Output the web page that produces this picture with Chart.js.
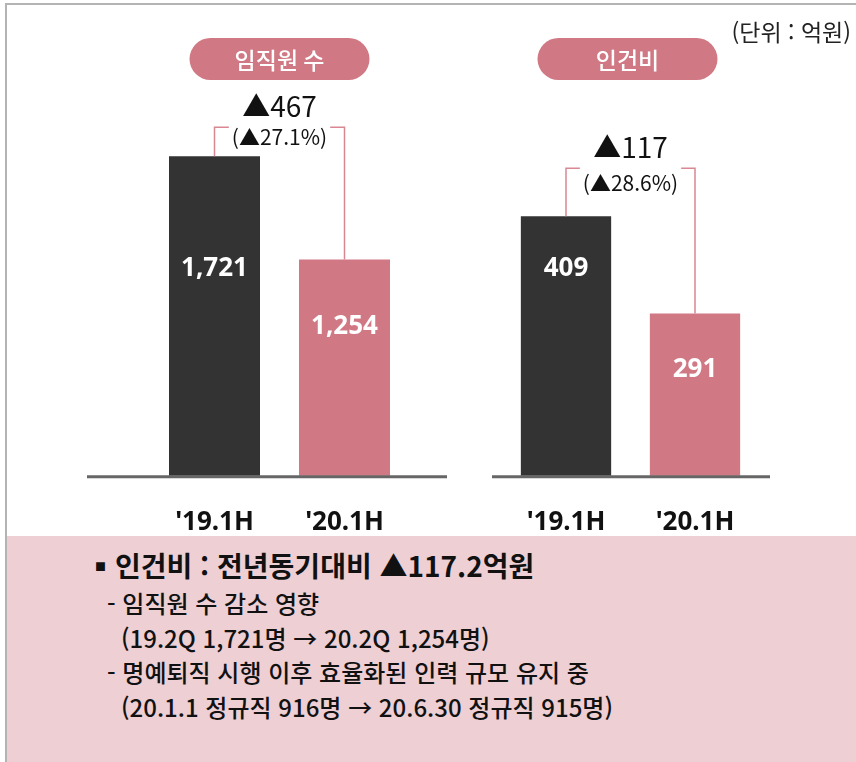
<!DOCTYPE html>
<html lang="ko">
<head>
    <meta charset="UTF-8">
    <meta name="viewport" content="width=device-width, initial-scale=1.0">
    <title>임직원 수 / 인건비</title>
    <style>
        body {
            margin: 0;
            padding: 0;
            width: 856px;
            height: 762px;
            position: relative;
            overflow: hidden;
            background-color: #fff;
            font-family: "Noto Sans CJK KR", "Noto Sans", sans-serif;
            color: #111;
        }
        .frame {
            position: absolute;
            left: 5px;
            top: 3px;
            width: 900px;
            height: 800px;
            border-left: 2px solid #b4b4b4;
            border-top: 2px solid #b4b4b4;
        }
        .chart-box {
            position: absolute;
            top: 0;
            height: 577px;
        }
        .unit {
            position: absolute;
            right: 5px;
            top: 15px;
            font-size: 23px;
            line-height: 32px;
            color: #222;
        }
        .note {
            position: absolute;
            left: 7px;
            top: 536px;
            width: 849px;
            height: 226px;
            background-color: #edcfd4;
        }
        .note div {
            position: absolute;
            white-space: nowrap;
            line-height: 34px;
        }
        .note .head {
            left: 88px;
            top: 12px;
            font-size: 28px;
            font-weight: bold;
        }
        .note .head .bullet {
            font-size: 11px;
            margin-right: 9px;
            vertical-align: 6px;
        }
        .note .sub {
            font-size: 24px;
            font-weight: 500;
        }
    </style>
</head>
<body>
    <div class="frame"></div>

    <div class="chart-box" style="left:0; width:470px;">
        <canvas id="staffChart" width="470" height="577"></canvas>
    </div>
    <div class="chart-box" style="left:470px; width:386px;">
        <canvas id="costChart" width="386" height="577"></canvas>
    </div>

    <div class="unit">(단위 : 억원)</div>

    <!-- 하단 설명 박스 -->
    <div class="note">
        <div class="head"><span class="bullet">■</span>인건비 : 전년동기대비 ▲117.2억원</div>
        <div class="sub" style="left:100px; top:50px;">- 임직원 수 감소 영향</div>
        <div class="sub" style="left:114px; top:85px;">(19.2Q 1,721명 → 20.2Q 1,254명)</div>
        <div class="sub" style="left:100px; top:119px;">- 명예퇴직 시행 이후 효율화된 인력 규모 유지 중</div>
        <div class="sub" style="left:114px; top:154px;">(20.1.1 정규직 916명 → 20.6.30 정규직 915명)</div>
    </div>

    <script src="https://cdn.jsdelivr.net/npm/chart.js"></script>
    <script>
        // 데이터
        const periods = ["'19.1H", "'20.1H"];
        const staffCount = [1721, 1254];
        const laborCost = [409, 291];
        const staffChange = ['▲467', '(▲27.1%)'];
        const costChange = ['▲117', '(▲28.6%)'];

        const DARK = '#333333';
        const PINK = '#d07883';
        const LINE_PINK = '#d98893';
        const KR_FONT = '"Noto Sans CJK KR", "Noto Sans", sans-serif';

        // 장식: 베이스라인, 제목 알약, 증감 괄호, 막대 값
        const decoPlugin = {
            id: 'deco',
            afterDatasetsDraw(chart, args, opts) {
                const ctx = chart.ctx;
                const area = chart.chartArea;
                const bars = chart.getDatasetMeta(0).data;
                const values = chart.data.datasets[0].data;
                const cx = (area.left + area.right) / 2;

                ctx.save();

                // 베이스라인
                ctx.strokeStyle = '#666';
                ctx.lineWidth = 3;
                ctx.beginPath();
                ctx.moveTo(area.left - opts.extend[0], area.bottom + 1);
                ctx.lineTo(area.right + opts.extend[1], area.bottom + 1);
                ctx.stroke();

                // 제목 알약
                const pw = 180, ph = 42, py = 38;
                ctx.fillStyle = PINK;
                ctx.beginPath();
                ctx.roundRect(cx - pw / 2 + opts.pillShift, py, pw, ph, ph / 2);
                ctx.fill();
                ctx.fillStyle = '#fff';
                ctx.font = '500 23px ' + KR_FONT;
                ctx.textAlign = 'center';
                ctx.textBaseline = 'middle';
                ctx.fillText(opts.title, cx + opts.pillShift, py + ph / 2 + 1);

                // 증감 괄호
                const a = bars[0], b = bars[1];
                const hy = Math.min(a.y, b.y) - opts.gap;
                ctx.font = '21px ' + KR_FONT;
                const tw = ctx.measureText(opts.change[1]).width;
                ctx.strokeStyle = LINE_PINK;
                ctx.lineWidth = 1.5;
                ctx.beginPath();
                ctx.moveTo(a.x, a.y);
                ctx.lineTo(a.x, hy);
                ctx.lineTo(cx - tw / 2 - 3, hy);
                ctx.moveTo(cx + tw / 2 + 3, hy);
                ctx.lineTo(b.x, hy);
                ctx.lineTo(b.x, b.y);
                ctx.stroke();

                ctx.fillStyle = '#111';
                ctx.fillText(opts.change[1], cx, hy + opts.smallDy);
                ctx.font = '28px ' + KR_FONT;
                ctx.fillText(opts.change[0], cx, hy - 21);

                // 막대 안 값
                ctx.fillStyle = '#fff';
                ctx.font = 'bold 26px "Noto Sans", sans-serif';
                bars.forEach((bar, i) => {
                    ctx.fillText(values[i].toLocaleString('en-US'), bar.x, bar.y + opts.labelDy[i]);
                });

                ctx.restore();
            }
        };

        function makeChart(id, values, range, pad, deco) {
            const ctx = document.getElementById(id).getContext('2d');
            return new Chart(ctx, {
                type: 'bar',
                data: {
                    labels: periods,
                    datasets: [{
                        data: values,
                        backgroundColor: [DARK, PINK],
                        borderWidth: 0,
                        categoryPercentage: 1.0,
                        barPercentage: 0.7
                    }]
                },
                options: {
                    responsive: false,
                    animation: false,
                    layout: { padding: pad },
                    plugins: {
                        legend: { display: false },
                        tooltip: { enabled: false },
                        deco: deco
                    },
                    scales: {
                        x: {
                            grid: { display: false, drawTicks: false },
                            border: { display: false },
                            ticks: {
                                color: '#111',
                                padding: 31,
                                font: { family: '"Noto Sans", sans-serif', size: 26, weight: 'bold' }
                            }
                        },
                        y: {
                            display: false,
                            min: range[0],
                            max: range[1]
                        }
                    }
                },
                plugins: [decoPlugin]
            });
        }

        // 임직원 수 (왼쪽)
        makeChart('staffChart', staffCount, [275, 1975],
            { left: 149.5, right: 60.5, top: 100, bottom: 8 },
            { title: '임직원 수', change: staffChange, extend: [62.5, 37.5], gap: 29, smallDy: 10, pillShift: 0, labelDy: [112, 67] });

        // 인건비 (오른쪽)
        makeChart('costChart', laborCost, [94, 550],
            { left: 31.5, right: 96.5, top: 100, bottom: 8 },
            { title: '인건비', change: costChange, extend: [9.5, 10.5], gap: 48, smallDy: 15, pillShift: -3, labelDy: [52, 56] });
    </script>
</body>
</html>
